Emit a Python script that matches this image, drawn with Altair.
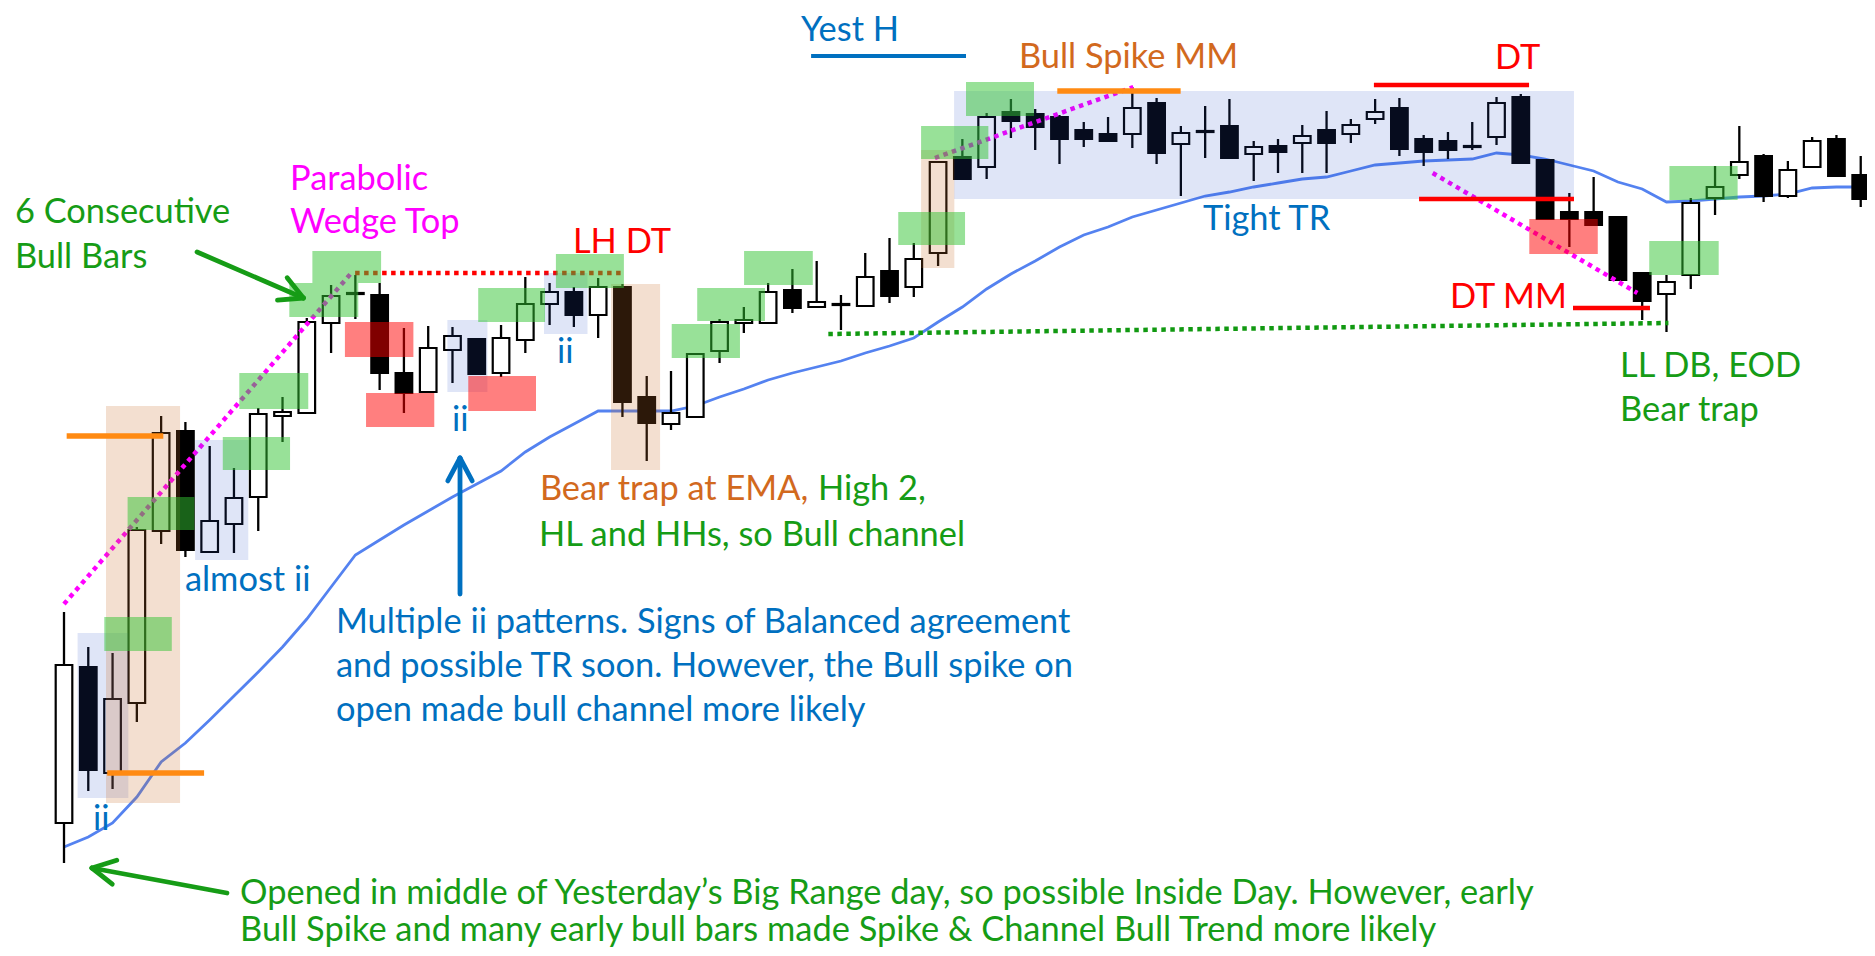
import math
import altair as alt
import pandas as pd

W, H = 1859, 940
XMIN, XMAX = -2.3064, 74.2586
YMIN, YMAX = 0.0, 94.0

# ---- candles (bar index 0..74) ----
opens = [12.5, 28.1, 17.5, 24.5, 41.7, 51.7, 39.6, 42.4, 45.1, 53.2,
         53.5, 62.5, 65.4, 65.3, 57.5, 55.6, 59.8, 60.9, 57.5, 60.8,
         64.4, 65.6, 63.3, 66.1, 55.1, 52.4, 53.1, 59.7, 62.5, 62.5,
         65.8, 64.1, 64.4, 64.2, 67.7, 66.1, 69.5, 79.1, 78.1, 83.6,
         83.4, 83.1, 81.8, 81.4, 81.4, 84.5, 80.4, 81.7, 82.2, 79.4,
         80.2, 80.5, 81.8, 81.4, 82.9, 84.0, 80.9, 80.7, 80.2, 81.1,
         85.1, 78.8, 73.6, 73.6, 73.1, 67.5, 65.4, 67.3, 75.0, 77.3,
         79.2, 75.2, 78.1, 80.9, 77.3]
highs = [33.6, 30.1, 29.5, 42.1, 53.2, 52.6, 50.2, 48.0, 54.0, 55.1,
         63.0, 66.3, 67.3, 66.5, 62.0, 62.2, 62.1, 61.0, 62.3, 67.1,
         66.5, 66.1, 67.0, 66.4, 57.2, 57.7, 59.5, 62.9, 64.1, 66.5,
         67.9, 68.7, 65.3, 69.5, 71.0, 70.5, 78.7, 80.9, 83.5, 84.9,
         83.9, 83.3, 82.6, 83.1, 86.1, 85.0, 82.2, 84.2, 84.9, 80.7,
         80.9, 82.3, 83.7, 82.9, 84.9, 85.0, 81.3, 81.6, 82.6, 85.1,
         85.4, 78.8, 75.5, 77.1, 73.1, 67.5, 67.3, 75.0, 78.2, 82.2,
         79.4, 78.7, 81.1, 81.3, 79.2]
lows = [8.5, 15.7, 15.9, 22.6, 40.4, 39.1, 39.6, 39.5, 41.7, 50.6,
        53.5, 59.5, 62.9, 55.8, 53.5, 55.6, 56.5, 57.3, 57.1, 59.5,
        62.3, 62.1, 61.0, 53.1, 48.7, 51.8, 53.0, 58.5, 61.5, 62.5,
        63.5, 64.1, 61.8, 64.2, 64.5, 65.1, 68.2, 76.9, 76.9, 81.0,
        79.8, 78.4, 80.1, 80.7, 80.0, 78.4, 75.2, 79.0, 79.0, 76.7,
        77.5, 77.5, 77.5, 80.5, 82.4, 79.2, 78.2, 78.9, 79.8, 80.3,
        78.5, 72.9, 70.1, 72.3, 66.8, 62.8, 61.6, 65.9, 73.3, 76.9,
        74.6, 75.0, 78.1, 77.2, 74.1]
closes = [28.3, 17.8, 24.9, 41.8, 51.5, 39.8, 42.7, 45.0, 53.4, 53.6,
          62.6, 65.2, 65.5, 57.5, 55.5, 60.0, 61.2, 57.4, 61.0, 64.4,
          65.6, 63.3, 66.1, 54.6, 52.5, 53.5, 59.4, 62.6, 62.8, 65.6,
          64.0, 64.6, 64.3, 67.1, 65.2, 68.9, 78.6, 76.9, 83.1, 82.7,
          82.1, 80.9, 80.9, 80.7, 84.0, 79.5, 81.5, 81.6, 79.0, 80.1,
          79.6, 81.2, 80.5, 82.3, 83.6, 79.9, 79.6, 79.8, 80.1, 84.5,
          78.5, 72.9, 72.9, 72.3, 66.8, 64.7, 66.6, 74.5, 76.1, 78.6,
          75.2, 77.8, 80.7, 77.2, 74.9]
ema = [10.1, 11.1, 12.5, 15.1, 18.6, 20.5, 22.8, 25.2, 27.6, 30.1,
       32.9, 36.1, 39.3, 40.8, 42.3, 43.7, 45.1, 46.4, 47.7, 49.6,
       51.1, 52.4, 53.7, 53.7, 53.7, 53.7, 54.2, 55.1, 55.9, 56.8,
       57.5, 58.1, 58.7, 59.5, 60.2, 61.0, 62.6, 64.1, 65.9, 67.4,
       68.7, 70.1, 71.3, 72.1, 73.1, 73.8, 74.5, 75.2, 75.6, 76.1,
       76.5, 76.9, 77.1, 77.7, 78.3, 78.5, 78.7, 78.8, 78.9, 79.5,
       79.3, 78.9, 78.3, 77.7, 76.6, 75.9, 74.6, 74.7, 74.9, 75.1,
       75.2, 75.4, 76.0, 76.1, 76.1]

# ---- highlight boxes (bar index, price) ----
blue_x0 = [0.56, 5.40, 15.79, 19.77, 36.66]
blue_x1 = [2.65, 7.59, 17.44, 21.56, 62.19]
blue_y0 = [15.0, 38.8, 55.6, 61.4, 74.9]
blue_y1 = [31.5, 50.8, 62.8, 67.5, 85.7]

orange_x0 = [1.73, 22.53, 35.30]
orange_x1 = [4.78, 24.55, 36.67]
orange_y0 = [14.5, 47.8, 68.0]
orange_y1 = [54.2, 66.4, 79.8]

green_x0 = [1.66, 2.62, 6.54, 7.22, 9.28, 10.23, 17.06, 20.26, 25.03, 26.08, 28.01, 34.36, 35.30, 37.15, 65.29, 66.12]
green_x1 = [4.44, 5.37, 9.31, 10.06, 12.12, 13.06, 19.81, 23.06, 27.84, 28.87, 30.84, 37.11, 38.07, 39.95, 68.15, 68.93]
green_y0 = [29.7, 41.8, 47.8, 53.9, 63.1, 66.5, 62.6, 66.0, 59.0, 62.7, 66.3, 70.3, 78.9, 83.2, 67.3, 74.8]
green_y1 = [33.1, 45.1, 51.1, 57.5, 66.5, 69.7, 66.0, 69.4, 62.4, 66.0, 69.7, 73.6, 82.2, 86.6, 70.7, 78.2]

red_x0 = [11.57, 12.44, 16.65, 60.35]
red_x1 = [14.39, 15.25, 19.44, 63.17]
red_y0 = [59.1, 52.1, 53.7, 69.4]
red_y1 = [62.6, 55.5, 57.2, 72.9]

# ---- solid level lines ----
orange_lines = [(0.11, 4.09, 51.2), (1.78, 5.77, 17.5), (40.91, 45.99, 85.7)]
blue_lines = [(30.77, 37.15, 89.2)]
red_lines = [(53.95, 60.34, 86.3), (55.81, 62.19, 74.9), (62.15, 65.32, 64.0)]

# ---- dotted trend lines ----
magenta_dots = [(0.0, 34.4, 11.87, 67.6), (35.87, 79.0, 44.04, 86.1), (56.37, 77.5, 64.80, 65.5)]
red_dots = [(11.99, 67.5, 23.04, 67.5)]
green_dots = [(31.48, 61.4, 66.08, 62.5)]

# ---- arrows (start -> tip) ----
GREEN = "#169c16"
BLUE = "#0070c0"
arrows = [((5.48, 69.6), (9.86, 65.0), GREEN),
          ((6.71, 5.5), (1.15, 8.0), GREEN),
          ((16.31, 35.4), (16.31, 49.0), BLUE)]

# ---- text labels ----
ORANGE_T = "#d2691e"
RED = "#ff0000"
MAG = "#ff00ff"
labels = [
    (30.35, 90.7, "Yest H", BLUE),
    (39.33, 88.0, "Bull Spike MM", ORANGE_T),
    (58.94, 87.9, "DT", RED),
    (-2.02, 72.5, "6 Consecutive", GREEN),
    (-2.02, 68.0, "Bull Bars", GREEN),
    (9.31, 75.8, "Parabolic", MAG),
    (9.31, 71.5, "Wedge Top", MAG),
    (20.96, 69.5, "LH DT", RED),
    (4.98, 35.7, "almost ii", BLUE),
    (1.19, 11.8, "ii", BLUE),
    (15.98, 51.7, "ii", BLUE),
    (20.30, 58.5, "ii", BLUE),
    (19.60, 44.8, "Bear trap at EMA,", ORANGE_T),
    (31.05, 44.8, "High 2,", GREEN),
    (19.56, 40.2, "HL and HHs, so Bull channel", GREEN),
    (11.20, 31.5, "Multiple ii patterns. Signs of Balanced agreement", BLUE),
    (11.20, 27.1, "and possible TR soon. However, the Bull spike on", BLUE),
    (11.20, 22.7, "open made bull channel more likely", BLUE),
    (46.91, 71.8, "Tight TR", BLUE),
    (57.08, 64.0, "DT MM", RED),
    (64.09, 57.1, "LL DB, EOD", GREEN),
    (64.09, 52.7, "Bear trap", GREEN),
    (7.25, 4.45, "Opened in middle of Yesterday\u2019s Big Range day, so possible Inside Day. However, early", GREEN),
    (7.25, 0.75, "Bull Spike and many early bull bars made Spike & Channel Bull Trend more likely", GREEN),
]

# ================= build =================
xs = alt.Scale(domain=[XMIN, XMAX], nice=False, zero=False)
ys = alt.Scale(domain=[YMIN, YMAX], nice=False, zero=False)

def X(f):
    return alt.X(f, type="quantitative", scale=xs, axis=None)

def Y(f):
    return alt.Y(f, type="quantitative", scale=ys, axis=None)

n = len(opens)
half = 0.342
cdf = pd.DataFrame({
    "i": list(range(n)), "o": opens, "h": highs, "l": lows, "c": closes,
})
cdf["bx0"] = cdf["i"] - half
cdf["bx1"] = cdf["i"] + half
cdf["fill"] = ["white" if c >= o else "black" for o, c in zip(opens, closes)]

edf = pd.DataFrame({"i": list(range(n)), "ema": ema})

ema_layer = alt.Chart(edf).mark_line(color="#5482f0", strokeWidth=2.8).encode(x=X("i"), y=Y("ema"))
wicks = alt.Chart(cdf).mark_rule(color="black", strokeWidth=2.3).encode(x=X("i"), y=Y("l"), y2=alt.Y2("h"))
bodies = alt.Chart(cdf).mark_rect(stroke="black", strokeWidth=2.2).encode(
    x=X("bx0"), x2=alt.X2("bx1"), y=Y("o"), y2=alt.Y2("c"), fill=alt.Fill("fill:N", scale=None))

def dotted(segs, color):
    d = pd.DataFrame(segs, columns=["x0", "y0", "x1", "y1"])
    return alt.Chart(d).mark_rule(color=color, strokeWidth=4.5, strokeDash=[4.5, 4.5]).encode(
        x=X("x0"), y=Y("y0"), x2=alt.X2("x1"), y2=alt.Y2("y1"))

def boxes(x0, x1, y0, y1, color, op):
    d = pd.DataFrame({"x0": x0, "x1": x1, "y0": y0, "y1": y1})
    return alt.Chart(d).mark_rect(color=color, opacity=op).encode(
        x=X("x0"), x2=alt.X2("x1"), y=Y("y0"), y2=alt.Y2("y1"))

def levels(segs, color, w):
    d = pd.DataFrame(segs, columns=["x0", "x1", "y"])
    return alt.Chart(d).mark_rule(color=color, strokeWidth=w).encode(
        x=X("x0"), x2=alt.X2("x1"), y=Y("y"))

def to_px(i, p):
    return ((i - XMIN) / (XMAX - XMIN) * W, (YMAX - p) / (YMAX - YMIN) * H)

def from_px(x, y):
    return (XMIN + x / W * (XMAX - XMIN), YMAX - y / H * (YMAX - YMIN))

arrow_rows = []
for (s, t, col) in arrows:
    arrow_rows.append({"x0": s[0], "y0": s[1], "x1": t[0], "y1": t[1], "col": col})
    sx, sy = to_px(*s)
    tx, ty = to_px(*t)
    ang = math.atan2(sy - ty, sx - tx)
    for da in (math.radians(28), -math.radians(28)):
        bx = tx + 26 * math.cos(ang + da)
        by = ty + 26 * math.sin(ang + da)
        bi, bp = from_px(bx, by)
        arrow_rows.append({"x0": t[0], "y0": t[1], "x1": bi, "y1": bp, "col": col})
adf = pd.DataFrame(arrow_rows)
arrow_layer = alt.Chart(adf).mark_rule(strokeWidth=4.8, strokeCap="round").encode(
    x=X("x0"), y=Y("y0"), x2=alt.X2("x1"), y2=alt.Y2("y1"), color=alt.Color("col:N", scale=None))

tdf = pd.DataFrame(labels, columns=["x", "y", "txt", "col"])
text_layer = alt.Chart(tdf).mark_text(align="left", baseline="alphabetic", font="Lato", fontSize=34.4).encode(
    x=X("x"), y=Y("y"), text="txt:N", color=alt.Color("col:N", scale=None))

chart = alt.layer(
    ema_layer,
    wicks,
    bodies,
    dotted(magenta_dots, MAG),
    dotted(red_dots, RED),
    dotted(green_dots, "#119911"),
    boxes(blue_x0, blue_x1, blue_y0, blue_y1, "#2850c8", 0.15),
    boxes(orange_x0, orange_x1, orange_y0, orange_y1, "#c86e28", 0.22),
    boxes(green_x0, green_x1, green_y0, green_y1, "#32c432", 0.5),
    boxes(red_x0, red_x1, red_y0, red_y1, "#ff0000", 0.5),
    levels(orange_lines, "#ff8a12", 5.5),
    levels(blue_lines, BLUE, 4),
    levels(red_lines, RED, 4.5),
    arrow_layer,
    text_layer,
).properties(width=W, height=H, padding=0, autosize="none", background="white").configure_view(strokeWidth=0)

chart.save("out.html", embed_options={"renderer": "svg", "actions": False})
